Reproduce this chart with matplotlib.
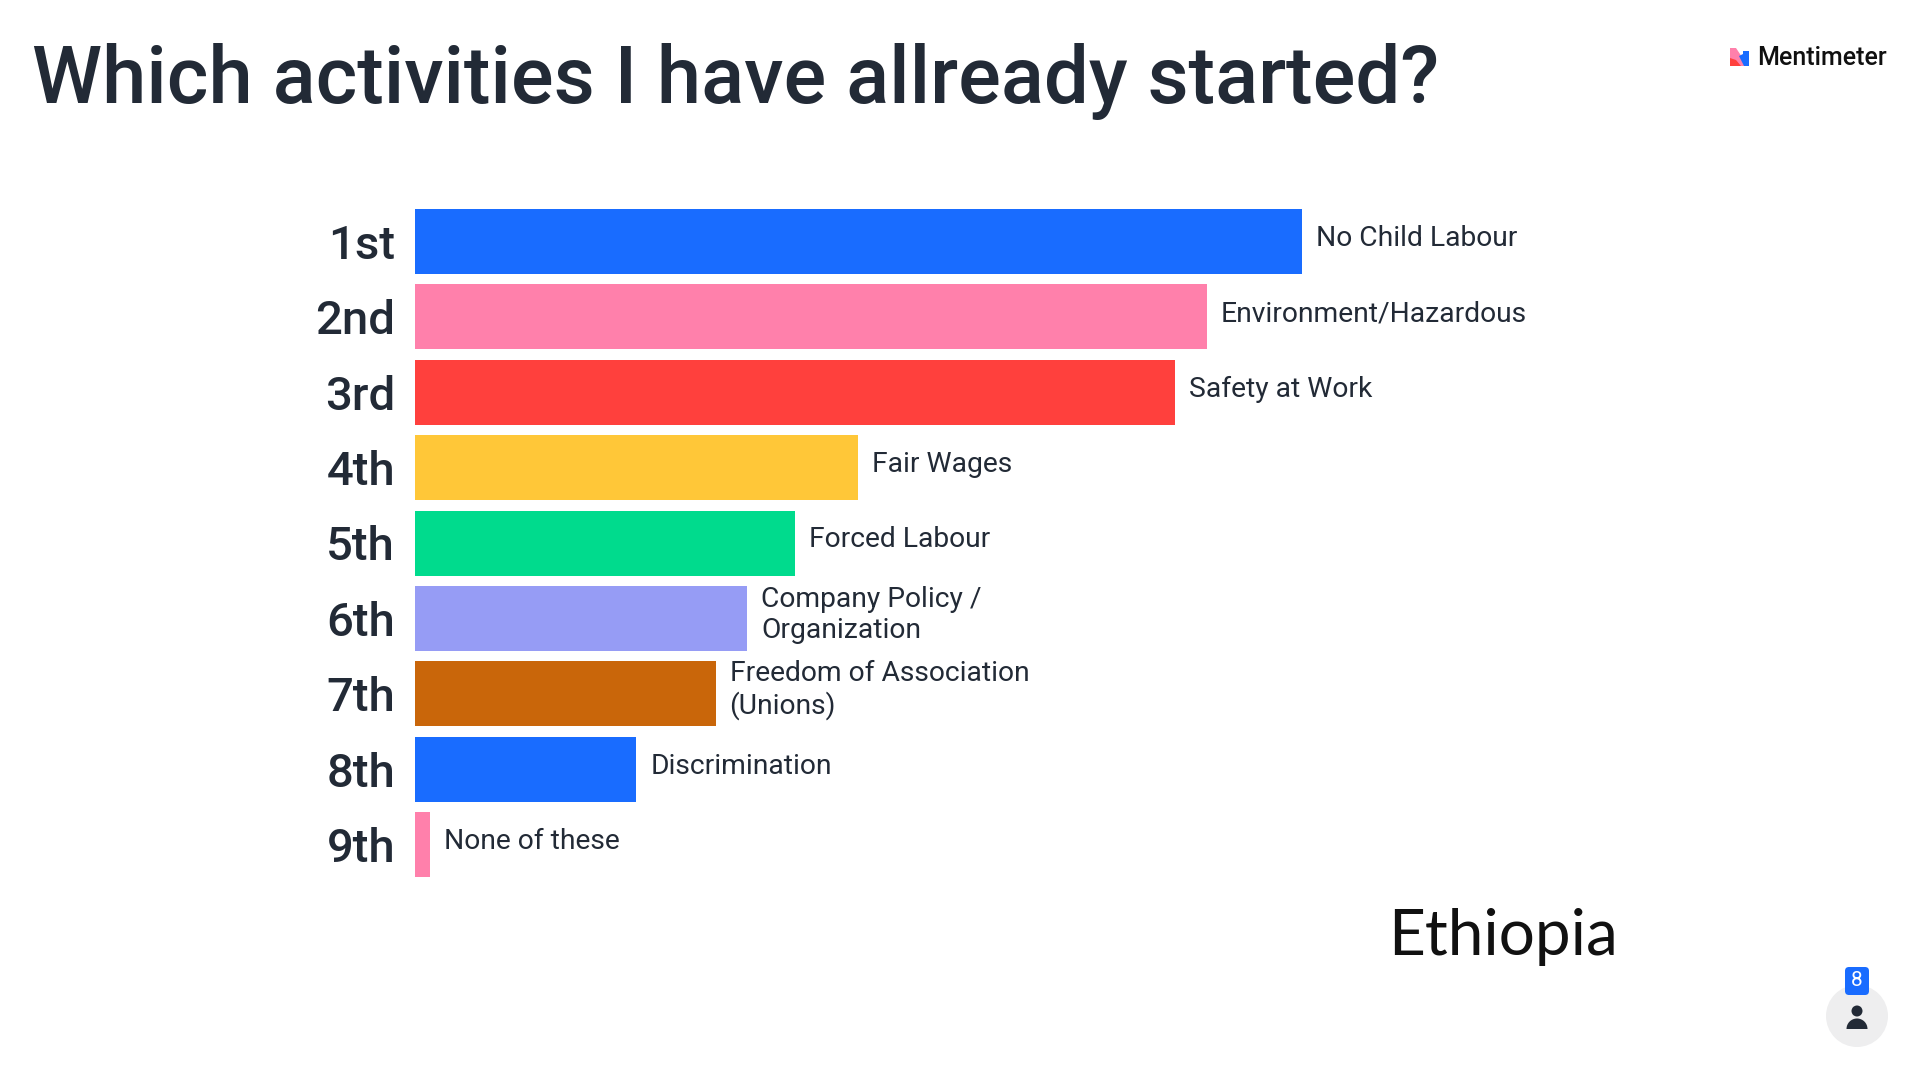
import matplotlib
matplotlib.use('agg')
import matplotlib.pyplot as plt
from matplotlib.patches import Circle, FancyBboxPatch, Polygon, Wedge

# rank labels, top to bottom
ranks = ['1st', '2nd', '3rd', '4th', '5th', '6th', '7th', '8th', '9th']
options = ['No Child Labour', 'Environment/Hazardous', 'Safety at Work', 'Fair Wages', 'Forced Labour',
           'Company Policy /\nOrganization', 'Freedom of Association\n(Unions)', 'Discrimination', 'None of these']
scores = [56, 50, 48, 28, 24, 21, 19, 14, 1]
colors = ['#196cff', '#ff80ab', '#ff403d', '#ffc738', '#00db8d', '#969cf5', '#c9660a', '#196cff', '#ff80ab']

DARK = '#222a36'
W, H = 1920, 1080
FONT = 'Roboto'

fig = plt.figure(figsize=(W / 100, H / 100), dpi=100, facecolor='white')

# bars: top of first at y=209, bottom of last at y=877, 15.8px per score point
ax = fig.add_axes([414.5 / W, 1 - 877 / H, 1500 / W, (877 - 209) / H])
pitch = (877 - 209 - 65) / 8
rows = list(range(len(ranks)))
ax.barh(rows, scores, height=65 / pitch, color=colors, linewidth=0)
ax.set_xlim(0, 1500 / 15.85)
ax.set_ylim(8 + 32.5 / pitch, -32.5 / pitch)
ax.set_yticks(rows)
ax.set_yticklabels(ranks, fontsize=34, color=DARK, family=FONT, fontweight='medium')
ax.tick_params(axis='y', length=0, pad=14)
ax.set_xticks([])
for s in ax.spines.values():
    s.set_visible(False)
ax.patch.set_alpha(0)

# baseline alignment goes off the last line, so two-line labels sit lower
for r, val, name in zip(rows, scores, options):
    yoff = -14.4 if '\n' in name else -3.2
    ax.annotate(name, (val, r), xytext=(10, yoff), textcoords='offset points', va='baseline', ha='left',
                fontsize=20.3, color=DARK, family=FONT, linespacing=1.2)

# everything else is placed in pixel coordinates
over = fig.add_axes([0, 0, 1, 1], zorder=5)
over.set_xlim(0, W)
over.set_ylim(H, 0)
over.axis('off')

over.text(32, 81, 'Which activities I have allready started?', fontsize=57.3, color=DARK, family=FONT,
          fontweight='medium', va='center', ha='left')
over.text(1388, 937, 'Ethiopia', fontsize=46, color='#111111', family='Lato', va='center', ha='left')

# logo
over.add_patch(Polygon([(1730, 48), (1736, 48), (1748, 66), (1730, 66)], color='#ff80ab', lw=0))
over.add_patch(Polygon([(1730, 66), (1730, 58), (1736, 60), (1741, 66)], color='#ff403d', lw=0))
over.add_patch(Polygon([(1739, 56), (1743, 54), (1743, 51), (1749, 51), (1749, 48), (1749, 66), (1744, 66)],
                       color='#196cff', lw=0))
over.text(1757, 58, 'Mentimeter', fontsize=18, color='#101010', family=FONT, fontweight='medium',
          va='center', ha='left')

# participant counter
over.add_patch(Circle((1857, 1016), 31, color='#eeeeef', lw=0))
over.add_patch(FancyBboxPatch((1845, 967), 24, 28, boxstyle='round,pad=0,rounding_size=4', color='#196cff', lw=0))
over.text(1857, 981, '8', fontsize=15, color='white', family=FONT, va='center', ha='center')
over.add_patch(Circle((1857, 1011), 5.5, color=DARK, lw=0))
over.add_patch(Wedge((1857, 1029), 10.5, 180, 360, color=DARK, lw=0))

fig.savefig('out.png', dpi=100)
